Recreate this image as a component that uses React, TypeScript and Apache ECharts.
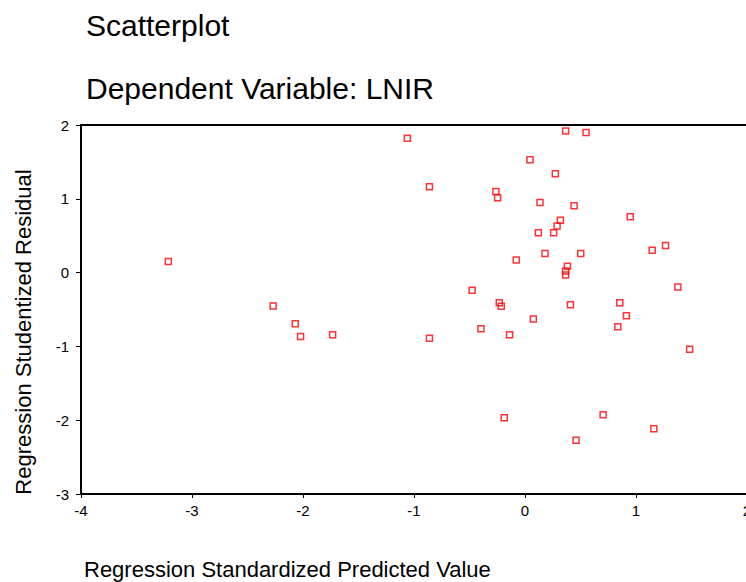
import React, { useEffect, useRef } from "react";
import * as echarts from "echarts";

const titleLines = ["Scatterplot", "Dependent Variable: LNIR"];
const xAxisName = "Regression Standardized Predicted Value";
const yAxisName = "Regression Studentized Residual";

const predicted = [
  -1.06, 0.366, 0.55, 0.045, 0.273, -0.861, -0.262, -0.247, 0.135, 0.442,
  0.948, 0.319, 0.289, 0.12, 0.258, 1.266, 1.146, 0.18, 0.502, -0.079,
  0.382, 0.366, 0.366, 1.377, -0.476, -0.232, -0.214, 0.409, 0.854, 0.914,
  0.075, -0.397, 0.836, -0.139, -0.861, 1.483, -0.187, 0.704, 1.161, 0.46,
  -3.213, -2.269, -2.07, -2.022, -1.733,
];
const residual = [
  1.82, 1.92, 1.9, 1.53, 1.34, 1.164, 1.1, 1.015, 0.95, 0.906,
  0.757, 0.711, 0.63, 0.539, 0.539, 0.367, 0.303, 0.258, 0.258, 0.172,
  0.086, 0.023, -0.031, -0.194, -0.24, -0.41, -0.457, -0.435, -0.41, -0.584,
  -0.63, -0.761, -0.734, -0.842, -0.888, -1.037, -1.966, -1.925, -2.115, -2.273,
  0.149, -0.453, -0.693, -0.865, -0.842,
];

const FONT = "Liberation Sans, Arial, sans-serif";

export default function App() {
  const ref = useRef<HTMLDivElement>(null);
  useEffect(() => {
    if (!ref.current) return;
    const chart = echarts.init(ref.current, null, { renderer: "svg" });
    const points = predicted.map((x, i) => [x, residual[i]]);
    chart.setOption({
      animation: false,
      backgroundColor: "#ffffff",
      grid: {
        left: 81,
        right: -1,
        top: 125,
        bottom: 88,
        containLabel: false,
        outerBoundsMode: "none",
        show: true,
        borderColor: "#000",
        borderWidth: 2,
        backgroundColor: "transparent",
      },
      xAxis: {
        type: "value",
        min: -4,
        max: 2,
        interval: 1,
        axisLine: { show: true, onZero: false, lineStyle: { color: "#000", width: 2 } },
        axisTick: { show: true, length: 4, lineStyle: { color: "#000", width: 1 } },
        axisLabel: { color: "#000", fontSize: 15, fontFamily: FONT, margin: 9 },
        splitLine: { show: false },
      },
      yAxis: {
        type: "value",
        min: -3,
        max: 2,
        interval: 1,
        axisLine: { show: true, onZero: false, lineStyle: { color: "#000", width: 2 } },
        axisTick: { show: true, length: 5, lineStyle: { color: "#000", width: 1 } },
        axisLabel: { color: "#000", fontSize: 15, fontFamily: FONT, margin: 12 },
        splitLine: { show: false },
      },
      graphic: [
        {
          type: "text",
          left: 86,
          top: 10,
          style: { text: titleLines[0], fontSize: 30, fontFamily: FONT, fill: "#000" },
        },
        {
          type: "text",
          left: 86,
          top: 73,
          style: { text: titleLines[1], fontSize: 30, fontFamily: FONT, fill: "#000" },
        },
        {
          type: "text",
          left: 84,
          top: 558,
          style: { text: xAxisName, fontSize: 22, fontFamily: FONT, fill: "#000" },
        },
        {
          type: "text",
          x: 23,
          y: 332,
          rotation: Math.PI / 2,
          style: {
            text: yAxisName,
            fontSize: 22,
            fontFamily: FONT,
            fill: "#000",
            align: "center",
            verticalAlign: "middle",
          },
        },
      ],
      series: [
        {
          type: "scatter",
          data: points,
          symbol: "rect",
          symbolSize: 6,
          itemStyle: { color: "transparent", borderColor: "#ff0000", borderWidth: 1.5 },
          emphasis: { disabled: true },
        },
      ],
    });
    return () => chart.dispose();
  }, []);
  return (
    <div
      ref={ref}
      style={{ position: "absolute", left: 0, top: 0, width: 746, height: 582 }}
    />
  );
}
